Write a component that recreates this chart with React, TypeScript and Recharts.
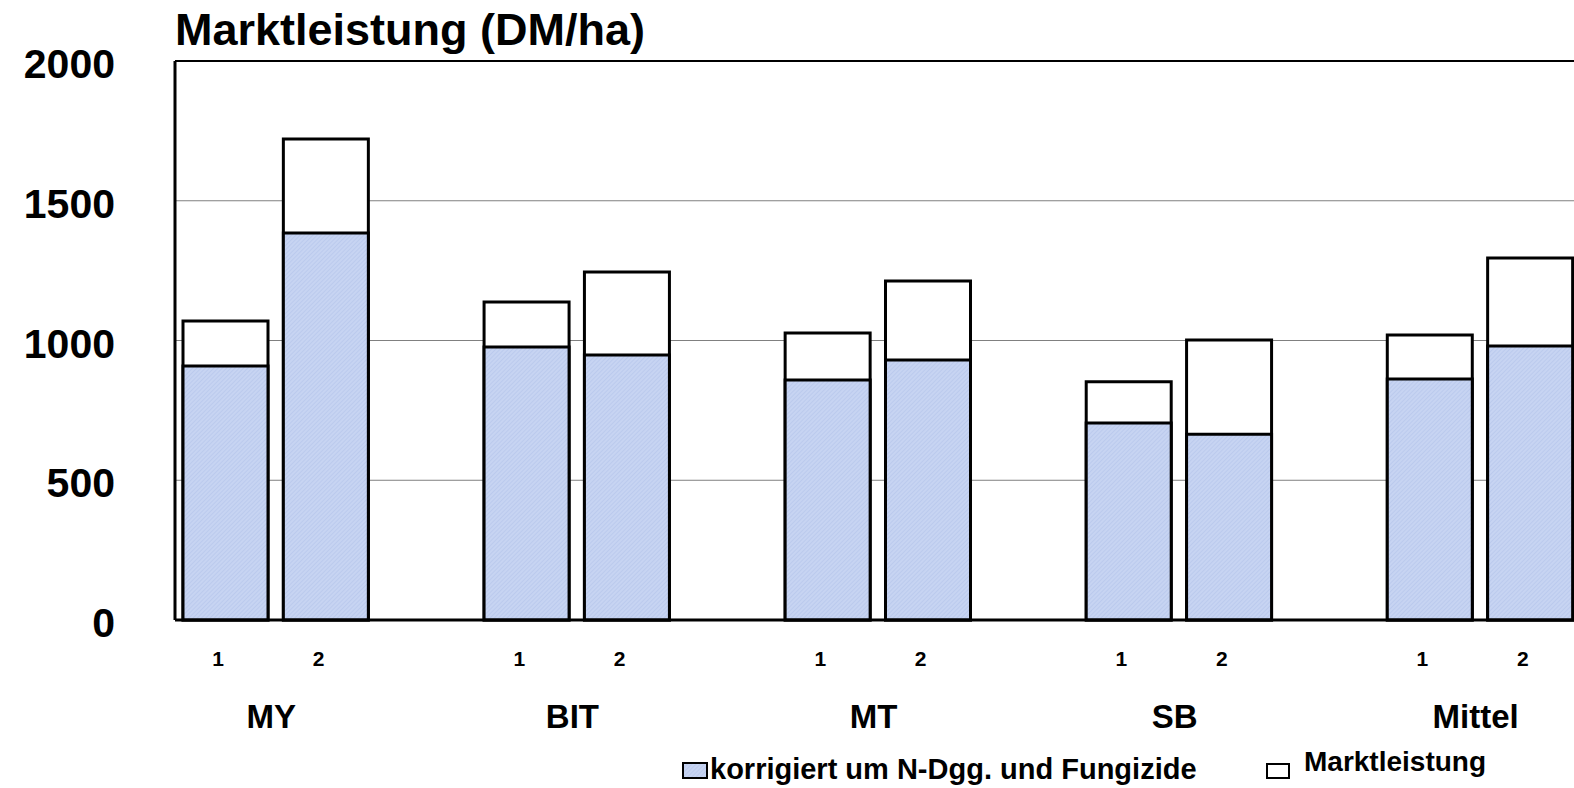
import { FC } from 'react';
import {
  BarChart,
  Bar,
  XAxis,
  YAxis,
  CartesianGrid,
  ReferenceLine,
} from 'recharts';

const groups = ['MY', 'BIT', 'MT', 'SB', 'Mittel'];
const variants = ['1', '2'];
// Marktleistung (DM/ha), two variants per group
const marktleistung = [1070, 1721, 1138, 1245, 1027, 1213, 852, 1002, 1020, 1295];
// korrigiert um N-Dgg. und Fungizide
const korrigiert = [909, 1385, 977, 948, 859, 930, 705, 665, 862, 980];
const yTicks = [0, 500, 1000, 1500, 2000];
const seriesNames = ['korrigiert um N-Dgg. und Fungizide', 'Marktleistung'];

type Row = { key: string; group: string; variant: string; markt: number | null; korr: number | null };

const rows: Row[] = [];
groups.forEach((g, gi) => {
  variants.forEach((v, vi) => {
    const i = gi * variants.length + vi;
    rows.push({ key: `${g}|${v}`, group: g, variant: v, markt: marktleistung[i], korr: korrigiert[i] });
  });
  if (gi < groups.length - 1) {
    rows.push({ key: `gap${gi}`, group: '', variant: '', markt: null, korr: null });
  }
});

const CHART_W = 1620;
const CHART_H = 788;
const MARGIN = { top: 61, right: 40, bottom: 0, left: 0 };
const Y_W = 175;
const SLOT = (CHART_W - MARGIN.right - Y_W) / rows.length;
const FONT = 'Arial, "Liberation Sans", sans-serif';

const XTick = ({ x, y, index }: any) => {
  const row = rows[index];
  if (!row || !row.variant) return null;
  return (
    <g fontFamily={FONT} fontWeight="bold" fill="#000">
      <text x={x - 7} y={y + 38} textAnchor="middle" fontSize={21}>
        {row.variant}
      </text>
      {row.variant === '1' && (
        <text x={x + SLOT / 2 - 4} y={y + 100} textAnchor="middle" fontSize={33}>
          {row.group}
        </text>
      )}
    </g>
  );
};

const YTick = ({ y, payload }: any) => (
  <text x={115} y={y + 17} textAnchor="end" fontFamily={FONT} fontWeight="bold" fontSize={41} fill="#000">
    {payload.value}
  </text>
);

const App: FC = () => {
  return (
    <div style={{ position: 'fixed', left: 0, top: 0, width: 1574, height: 788, overflow: 'hidden', background: '#fff' }}>
      <BarChart width={CHART_W} height={CHART_H} data={rows} margin={MARGIN}>
        <defs>
          <pattern id="hatch" width="3" height="3" patternUnits="userSpaceOnUse" patternTransform="rotate(45)">
            <rect width="3" height="3" fill="#c7d4f2" />
            <line x1="0" y1="0" x2="0" y2="3" stroke="#afc0e8" strokeWidth="1" />
          </pattern>
        </defs>
        <CartesianGrid horizontal vertical={false} stroke="#808080" strokeWidth={1} />
        <XAxis xAxisId="back" dataKey="key" height={0} hide />
        <XAxis
          xAxisId="main"
          dataKey="key"
          height={168}
          interval={0}
          tickLine={false}
          axisLine={{ stroke: '#000', strokeWidth: 3 }}
          tick={<XTick />}
        />
        <YAxis
          width={Y_W}
          domain={[0, 2000]}
          ticks={yTicks}
          tickLine={false}
          axisLine={{ stroke: '#000', strokeWidth: 3 }}
          tick={<YTick />}
        />
        <ReferenceLine xAxisId="main" y={2000} stroke="#000" strokeWidth={2} />
        <Bar
          xAxisId="back"
          dataKey="markt"
          name={seriesNames[1]}
          barSize={85}
          fill="#fff"
          stroke="#000"
          strokeWidth={3}
          isAnimationActive={false}
        />
        <Bar
          xAxisId="main"
          dataKey="korr"
          name={seriesNames[0]}
          barSize={85}
          fill="url(#hatch)"
          stroke="#000"
          strokeWidth={3}
          isAnimationActive={false}
        />
      </BarChart>
      <svg width={1574} height={788} style={{ position: 'absolute', left: 0, top: 0, pointerEvents: 'none' }}>
        <g fontFamily={FONT} fontWeight="bold" fill="#000">
          <text x={175} y={45} fontSize={45}>
            Marktleistung (DM/ha)
          </text>
          <rect x={683} y={763} width={24} height={15} fill="url(#hatch)" stroke="#000" strokeWidth={2} />
          <text x={710} y={779} fontSize={29}>
            {seriesNames[0]}
          </text>
          <rect x={1267} y={764} width={22} height={14} fill="#fff" stroke="#000" strokeWidth={2} />
          <text x={1304} y={771} fontSize={28}>
            {seriesNames[1]}
          </text>
        </g>
      </svg>
    </div>
  );
};

export default App;
